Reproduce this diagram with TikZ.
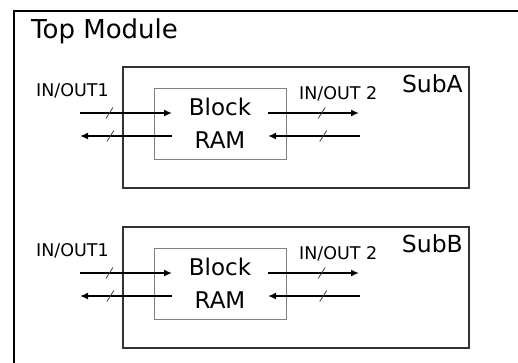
\documentclass[tikz,border=0pt]{standalone}
\usepackage{fontspec}
\setmainfont{DejaVu Sans}
\usetikzlibrary{arrows.meta}

\tikzset{
  topline/.style={draw=black, line width=2.5pt},
  subbox/.style={draw=black!80, line width=1.1pt, minimum width=346pt, minimum height=121pt, inner sep=0pt},
  ramblock/.style={draw=black!50, line width=0.9pt, minimum width=132pt, minimum height=71pt, inner sep=0pt, align=center, font=\fontsize{23}{33}\selectfont},
  bus/.style={line width=1.8pt, -{Latex[length=8pt,width=7pt]}},
  tick/.style={draw=black!75, line width=0.8pt},
  port/.style={anchor=base west, inner sep=0pt, font=\fontsize{17.5}{19}\selectfont},
}

\begin{document}
\begin{tikzpicture}[x=1pt,y=-1pt]
  \useasboundingbox (0,0) rectangle (518,362);
  \clip (0,0) rectangle (518,362);

  % top module
  \coordinate (topbl) at (14,380);
  \coordinate (toptl) at (14,11);
  \coordinate (toptr) at (540,11);
  \draw[topline] (topbl) -- (toptl) -- (toptr);
  \node[anchor=base west, inner sep=0pt, font=\fontsize{26}{28}\selectfont] (toplbl) at (31,38) {Top Module};

  % SubA
  \node[subbox] (suba) at (296,127.5) {};
  \node[anchor=base east, inner sep=0pt, font=\fontsize{23.5}{26}\selectfont] (subalbl) at (463,92) {SubA};
  \node[ramblock] (blka) at (220,123.5) {Block\\RAM};
  \node[port] (ioa1) at (36,96) {IN/OUT1};
  \node[port] (ioa2) at (299,99) {IN/OUT 2};

  \coordinate (a1l) at (80,113);
  \coordinate (a1r) at (172,113);
  \coordinate (a2l) at (80,136);
  \coordinate (a2r) at (172,136);
  \coordinate (a3l) at (268,113);
  \coordinate (a3r) at (359,113);
  \coordinate (a4l) at (268,136);
  \coordinate (a4r) at (360,136);

  \draw[bus] (a1l) -- coordinate[pos=0.32] (ta1) (a1r);
  \draw[bus] (a2r) -- coordinate[pos=0.67] (ta2) (a2l);
  \draw[bus] (a3l) -- coordinate[pos=0.59] (ta3) (a3r);
  \draw[bus] (a4r) -- coordinate[pos=0.40] (ta4) (a4l);

  \draw[tick] ([shift={(-3.5pt,-5.5pt)}]ta1) -- ([shift={(3.5pt,5.5pt)}]ta1);
  \draw[tick] ([shift={(-3.5pt,-5.5pt)}]ta2) -- ([shift={(3.5pt,5.5pt)}]ta2);
  \draw[tick] ([shift={(-3.5pt,-5.5pt)}]ta3) -- ([shift={(3.5pt,5.5pt)}]ta3);
  \draw[tick] ([shift={(-3.5pt,-5.5pt)}]ta4) -- ([shift={(3.5pt,5.5pt)}]ta4);

  % SubB
  \node[subbox] (subb) at (296,287.5) {};
  \node[anchor=base east, inner sep=0pt, font=\fontsize{23.5}{26}\selectfont] (subblbl) at (463,252) {SubB};
  \node[ramblock] (blkb) at (220,283.5) {Block\\RAM};
  \node[port] (iob1) at (36,256) {IN/OUT1};
  \node[port] (iob2) at (299,259) {IN/OUT 2};

  \coordinate (b1l) at (80,273);
  \coordinate (b1r) at (172,273);
  \coordinate (b2l) at (80,296);
  \coordinate (b2r) at (172,296);
  \coordinate (b3l) at (268,273);
  \coordinate (b3r) at (359,273);
  \coordinate (b4l) at (268,296);
  \coordinate (b4r) at (360,296);

  \draw[bus] (b1l) -- coordinate[pos=0.32] (tb1) (b1r);
  \draw[bus] (b2r) -- coordinate[pos=0.67] (tb2) (b2l);
  \draw[bus] (b3l) -- coordinate[pos=0.59] (tb3) (b3r);
  \draw[bus] (b4r) -- coordinate[pos=0.40] (tb4) (b4l);

  \draw[tick] ([shift={(-3.5pt,-5.5pt)}]tb1) -- ([shift={(3.5pt,5.5pt)}]tb1);
  \draw[tick] ([shift={(-3.5pt,-5.5pt)}]tb2) -- ([shift={(3.5pt,5.5pt)}]tb2);
  \draw[tick] ([shift={(-3.5pt,-5.5pt)}]tb3) -- ([shift={(3.5pt,5.5pt)}]tb3);
  \draw[tick] ([shift={(-3.5pt,-5.5pt)}]tb4) -- ([shift={(3.5pt,5.5pt)}]tb4);
\end{tikzpicture}
\end{document}
